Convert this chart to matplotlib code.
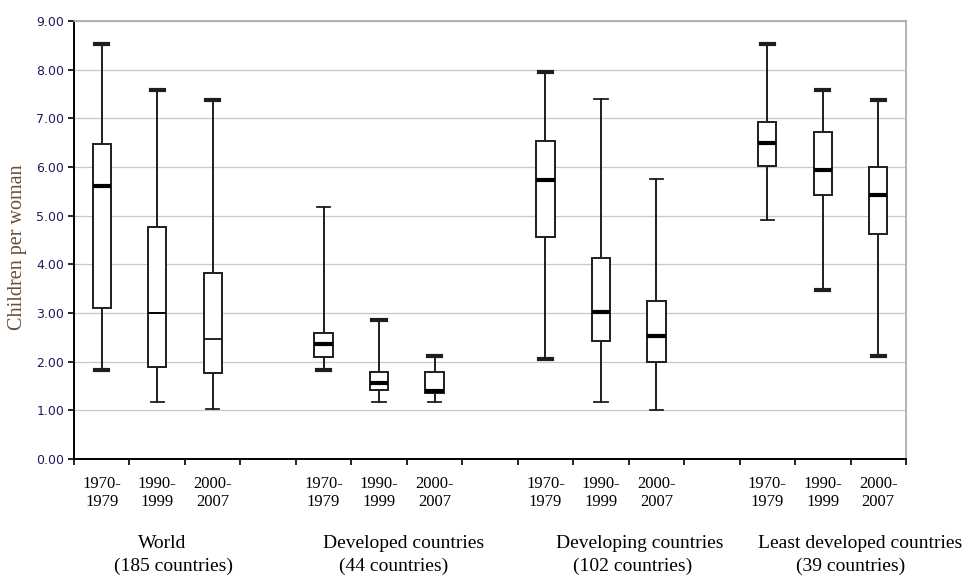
import matplotlib
matplotlib.use("Agg")
import matplotlib.pyplot as plt
import matplotlib.transforms as mtrans
from matplotlib.ticker import FixedLocator, NullFormatter

# one entry per box: World, Developed, Developing, Least developed x 3 periods
periods = ["1970-\n1979", "1990-\n1999", "2000-\n2007"]
groups = ["World", "Developed countries", "Developing countries", "Least developed countries"]
group_counts = ["(185 countries)", "(44 countries)", "(102 countries)", "(39 countries)"]

tfr_max = [8.53, 7.58, 7.38, 5.17, 2.86, 2.11, 7.95, 7.39, 5.75, 8.53, 7.59, 7.38]
tfr_q3 = [6.48, 4.77, 3.82, 2.59, 1.79, 1.79, 6.53, 4.12, 3.24, 6.92, 6.72, 5.99]
tfr_med = [5.60, 3.00, 2.46, 2.37, 1.57, 1.39, 5.73, 3.02, 2.53, 6.49, 5.93, 5.43]
tfr_q1 = [3.10, 1.89, 1.77, 2.09, 1.41, 1.35, 4.56, 2.42, 2.00, 6.03, 5.42, 4.63]
tfr_min = [1.82, 1.18, 1.02, 1.82, 1.17, 1.17, 2.05, 1.17, 1.00, 4.92, 3.47, 2.11]

# line weights as they appear in the original (thick / thin markers)
cap_top_lw = [3.0, 3.0, 3.0, 1.3, 3.0, 3.0, 3.0, 1.3, 1.3, 3.0, 3.0, 3.0]
cap_low_lw = [3.0, 1.3, 1.3, 3.0, 1.3, 1.3, 3.0, 1.3, 1.3, 1.3, 3.0, 3.0]
med_lw = [3.0, 1.4, 1.2, 3.0, 3.0, 3.0, 3.0, 3.0, 3.0, 3.0, 3.0, 3.0]

W, H = 969, 576
fig = plt.figure(figsize=(W / 100, H / 100), dpi=100)
ax = fig.add_axes([74 / W, 1 - 459 / H, (906 - 74) / W, (459 - 21) / H])

# 15 category slots, an empty slot between groups
positions = [g * 4 + p for g in range(len(groups)) for p in range(len(periods))]

stats = []
for i in range(len(positions)):
    stats.append({"whislo": tfr_min[i], "q1": tfr_q1[i], "med": tfr_med[i],
                  "q3": tfr_q3[i], "whishi": tfr_max[i], "fliers": []})

ink = "#1e1e1e"
res = ax.bxp(stats, positions=positions, widths=0.33, capwidths=0.24,
             showfliers=False, patch_artist=True,
             boxprops=dict(facecolor="white", edgecolor=ink, linewidth=1.4),
             whiskerprops=dict(color=ink, linewidth=1.4),
             capprops=dict(color=ink, linewidth=1.3),
             medianprops=dict(color="black", linewidth=3.0))
for i in range(len(positions)):
    res["caps"][2 * i].set_linewidth(cap_low_lw[i])
    res["caps"][2 * i + 1].set_linewidth(cap_top_lw[i])
    res["medians"][i].set_linewidth(med_lw[i])
    res["medians"][i].set_zorder(4)
for b in res["boxes"]:
    b.set_zorder(3)

ax.set_xlim(-0.5, 14.5)
ax.set_ylim(0, 9)
ax.set_yticks(range(0, 10))
ax.set_yticklabels(["%.2f" % v for v in range(0, 10)], fontsize=9,
                   color="#1c1c5a", family="DejaVu Sans")
ax.yaxis.grid(True, color="#c8c8c8", linewidth=0.9)
ax.set_axisbelow(True)

ax.xaxis.set_major_locator(FixedLocator([x - 0.5 for x in range(16)]))
ax.xaxis.set_major_formatter(NullFormatter())
ax.tick_params(axis="x", direction="out", length=4, width=1.2, color="black")
ax.tick_params(axis="y", direction="out", length=4, width=1.2, color="black", pad=3)

for s in ["left", "bottom"]:
    ax.spines[s].set_color("black")
    ax.spines[s].set_linewidth(1.4)
for s in ["top", "right"]:
    ax.spines[s].set_color("#a8a8a8")
    ax.spines[s].set_linewidth(1.2)

trans = mtrans.blended_transform_factory(ax.transData, fig.transFigure)
serif = "Liberation Serif"
for i, x in enumerate(positions):
    ax.text(x, 1 - 493 / H, periods[i % 3], transform=trans, ha="center", va="center",
            fontsize=12, family=serif, linespacing=1.15)

name_off = [0.09, 0.45, 0.70, 0.67]
count_off = [0.30, 0.27, 0.57, 0.51]
for g in range(len(groups)):
    c = g * 4 + 1
    ax.text(c + name_off[g], 1 - 544 / H, groups[g], transform=trans, ha="center",
            va="center", fontsize=14, family=serif)
    ax.text(c + count_off[g], 1 - 566 / H, group_counts[g], transform=trans, ha="center",
            va="center", fontsize=14, family=serif)

fig.text(18 / W, 1 - 247 / H, "Children per woman", rotation=90, ha="center", va="center",
         fontsize=14.5, family=serif, color="#6b4c3b")

fig.savefig("out.png", dpi=100)
